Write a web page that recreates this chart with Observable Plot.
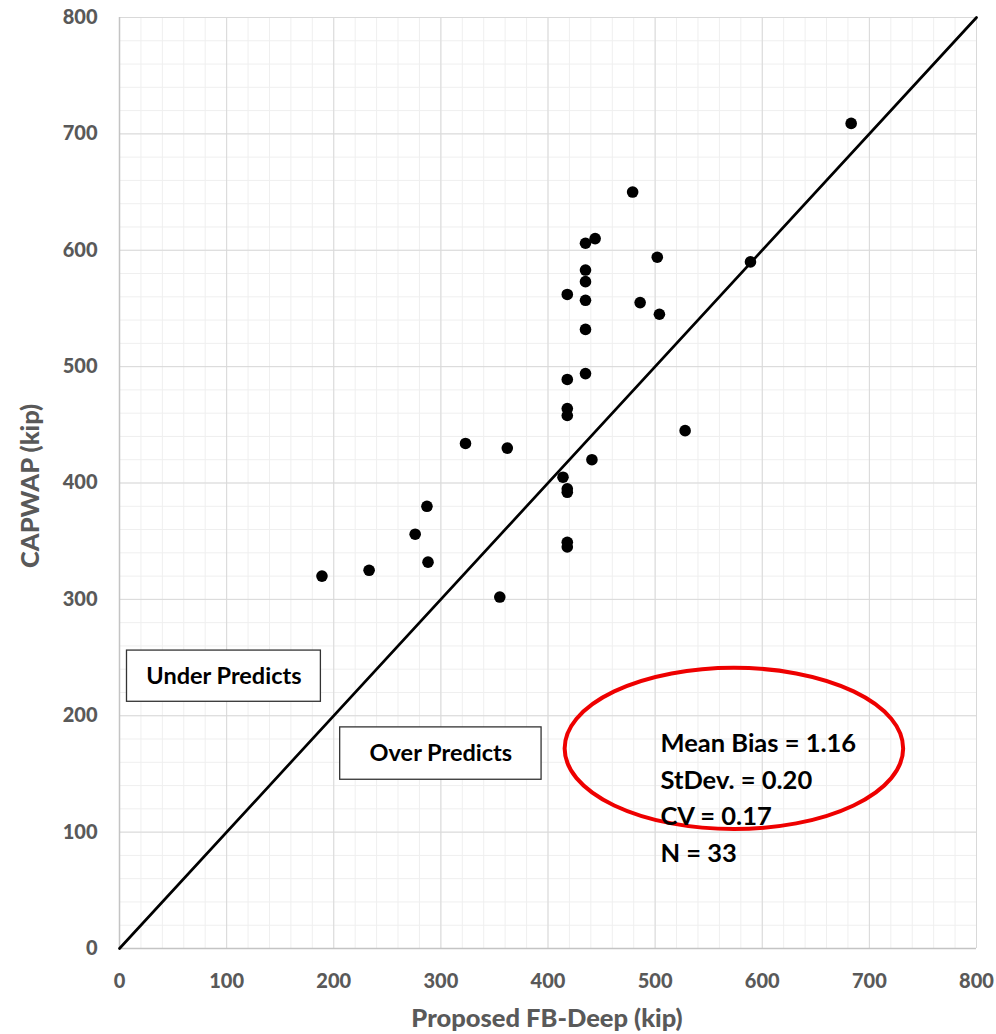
<!DOCTYPE html>
<html>
<head>
<meta charset="utf-8">
<script src="https://cdn.jsdelivr.net/npm/d3@7"></script>
<script src="https://cdn.jsdelivr.net/npm/@observablehq/plot@0.6"></script>
<style>
  html, body { margin: 0; padding: 0; background: #fff; }
  #chart svg { display: block; }
</style>
</head>
<body>
<div id="chart"></div>
<script>
// Predicted capacity (FB-Deep) vs measured capacity (CAPWAP), kips
const predicted = [683, 479, 444, 435, 502, 589, 435, 435, 418, 435, 486, 504, 435, 435, 418, 418,
                   418, 528, 323, 362, 441, 414, 418, 418, 287, 276, 288, 418, 418, 233, 189, 355];
const measured  = [709, 650, 610, 606, 594, 590, 583, 573, 562, 557, 555, 545, 532, 494, 489, 464,
                   458, 445, 434, 430, 420, 405, 395, 392, 380, 356, 332, 349, 345, 325, 320, 302];

const majorTicks = [0, 100, 200, 300, 400, 500, 600, 700, 800];
const minorTicks = d3.range(0, 801, 20);
const equalityLine = [0, 800];

const statLines = ["Mean Bias = 1.16", "StDev. = 0.20", "CV = 0.17", "N = 33"];

const zoneLabels = ["Under Predicts", "Over Predicts"];
const zoneBoxX1 = [7, 206];
const zoneBoxX2 = [188, 394];
const zoneBoxY1 = [212, 145];
const zoneBoxY2 = [256, 190];

const points = predicted.map((p, i) => ({p, m: measured[i]}));
const zones = zoneLabels.map((label, i) => ({
  label, x1: zoneBoxX1[i], x2: zoneBoxX2[i], y1: zoneBoxY1[i], y2: zoneBoxY2[i]
}));

const gray = "#595959";
const font = "Lato, 'Open Sans', sans-serif";

// red ring drawn around the summary statistics
const ring = {cx: 574, cy: 171.5, rx: 158, ry: 69.3};
function ringMark(index, scales) {
  const x = scales.x, y = scales.y;
  const e = document.createElementNS("http://www.w3.org/2000/svg", "ellipse");
  const cx = x(ring.cx), cy = y(ring.cy);
  e.setAttribute("cx", cx);
  e.setAttribute("cy", cy);
  e.setAttribute("rx", Math.abs(x(ring.cx + ring.rx) - cx));
  e.setAttribute("ry", Math.abs(y(ring.cy + ring.ry) - cy));
  e.setAttribute("fill", "none");
  e.setAttribute("stroke", "#ee0000");
  e.setAttribute("stroke-width", 4);
  return e;
}

const chart = Plot.plot({
  width: 996,
  height: 1034,
  marginLeft: 119,
  marginRight: 20,
  marginTop: 17,
  marginBottom: 86,
  style: {fontFamily: font, background: "#fff", overflow: "visible"},
  x: {domain: [0, 800], label: null},
  y: {domain: [0, 800], label: null},
  marks: [
    Plot.gridX(minorTicks, {stroke: "#efefef", strokeOpacity: 1, strokeWidth: 1}),
    Plot.gridY(minorTicks, {stroke: "#efefef", strokeOpacity: 1, strokeWidth: 1}),
    Plot.gridX(majorTicks, {stroke: "#d9d9d9", strokeOpacity: 1, strokeWidth: 1}),
    Plot.gridY(majorTicks, {stroke: "#d9d9d9", strokeOpacity: 1, strokeWidth: 1}),
    Plot.ruleX([0], {stroke: "#c4c4c4", strokeWidth: 1.5}),
    Plot.ruleY([0], {stroke: "#c4c4c4", strokeWidth: 1.5}),
    Plot.axisX(majorTicks, {tickSize: 0, tickPadding: 25, fontSize: 20, fontWeight: 900, fill: gray, label: null}),
    Plot.axisY(majorTicks, {tickSize: 0, tickPadding: 22, fontSize: 20, fontWeight: 900, fill: gray, label: null}),
    Plot.text(["Proposed FB-Deep (kip)"], {frameAnchor: "bottom", dy: 78, dx: -1, fontSize: 25.5, fontWeight: 900, fill: gray}),
    Plot.text(["CAPWAP (kip)"], {frameAnchor: "left", textAnchor: "middle", dx: -89, dy: 3, rotate: -90, fontSize: 25.5, fontWeight: 900, fill: gray}),
    Plot.line(equalityLine.map(v => ({a: v, b: v})), {x: "a", y: "b", stroke: "#000", strokeWidth: 2.7}),
    Plot.dot(points, {x: "p", y: "m", r: 5.8, fill: "#000", stroke: null}),
    Plot.rect(zones, {x1: "x1", x2: "x2", y1: "y1", y2: "y2", fill: "#fff", stroke: "#333", strokeWidth: 1.3}),
    Plot.text(zones, {x: d => (d.x1 + d.x2) / 2, y: d => (d.y1 + d.y2) / 2, text: "label", fontSize: 23.5, fontWeight: "bold", fill: "#000"}),
    ringMark,
    Plot.text([statLines.join("\n")], {x: 505, y: 191, textAnchor: "start", lineAnchor: "top", lineHeight: 1.43, fontSize: 25.5, fontWeight: "bold", fill: "#000"})
  ]
});

document.getElementById("chart").appendChild(chart);
</script>
</body>
</html>
